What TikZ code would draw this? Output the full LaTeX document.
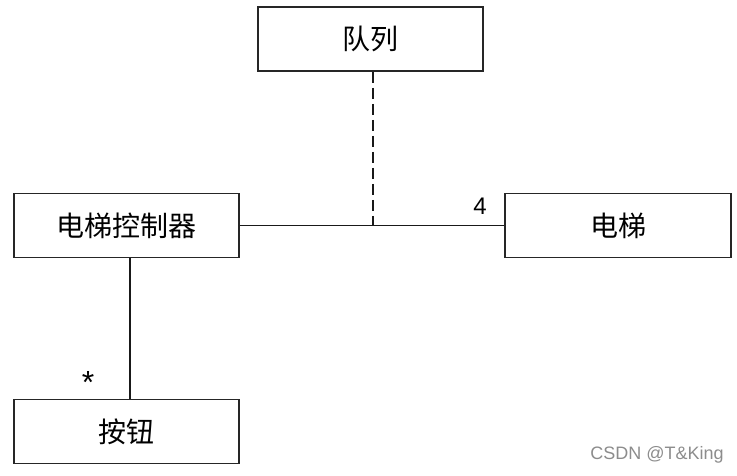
\documentclass[tikz,border=0pt]{standalone}
\usepackage{fontspec}
\newfontfamily\cjk{Noto Sans CJK SC}
\setmainfont{Liberation Sans}
\usetikzlibrary{calc}
\tikzset{
	classbox/.style={draw=black!85, line width=1.4pt, minimum width=168.75pt, minimum height=48pt, inner sep=0pt, font=\cjk\fontsize{21}{24}\selectfont},
	assoc/.style={line width=1pt, color=black!90},
	mult/.style={font=\fontsize{18}{20}\selectfont}
}
\begin{document}
\begin{tikzpicture}[x=0.75pt, y=-0.75pt]
			%%%%% START %%%%%
			
			\useasboundingbox (0, 0) rectangle (737, 475);
			
			\node[classbox] (queue) at (370.5, 39) {队列};
			\node[classbox] (ctrl) at (126.5, 225.5) {电梯控制器};
			\node[classbox, minimum width=169.5pt] (elev) at (618, 225.5) {电梯};
			\node[classbox] (button) at (126.5, 431.5) {按钮};
			
			\coordinate (junc) at (373, 225.5);
			\draw[assoc] (ctrl.east) -- (elev.west);
			\draw[assoc, dash pattern=on 8pt off 4pt] (queue.south -| junc) -- (junc);
			\draw[assoc] (ctrl.south -| 130, 0) -- (button.north -| 130, 0);
			
			\node[mult] (n4) at (480, 206) {4};
			\node[mult, font=\fontsize{24}{26}\selectfont] (nstar) at (88, 382) {*};
			
			\node[text=black!45, font=\fontsize{13.5}{15}\selectfont] (mark) at (657, 455) {CSDN @T\&King};
			
			%%%%% END %%%%%
		\end{tikzpicture}
\end{document}
